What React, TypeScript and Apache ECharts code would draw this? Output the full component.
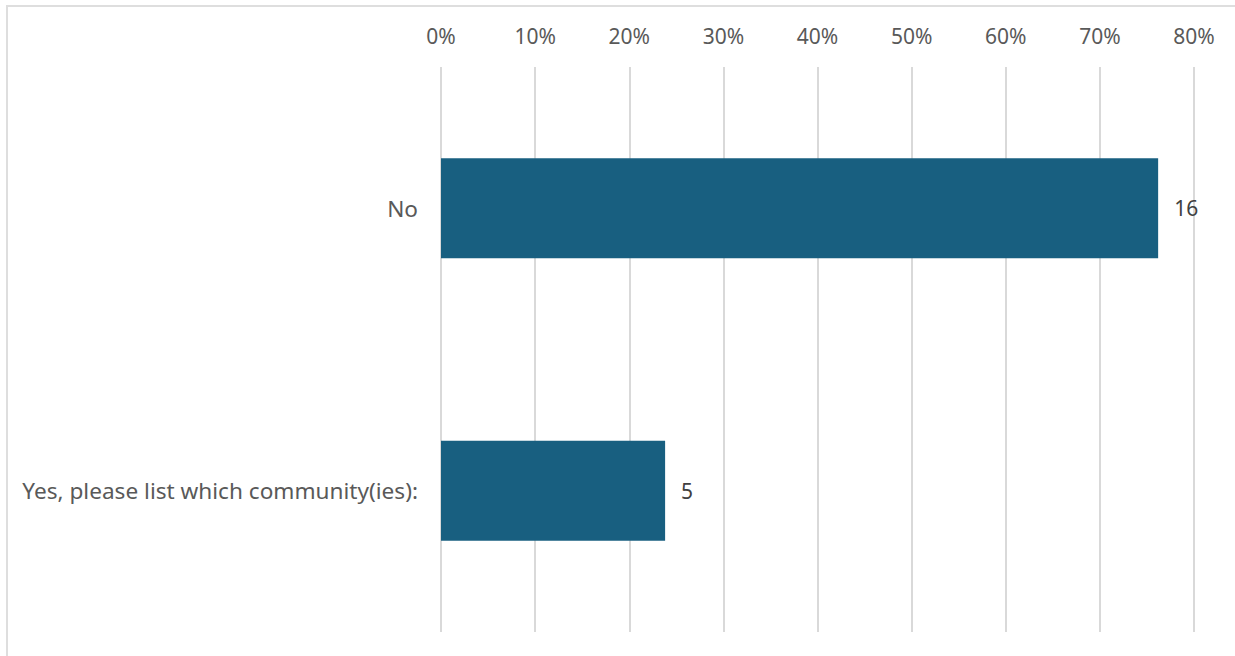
import React, { useEffect, useRef } from "react";
import * as echarts from "echarts";

const categories = ["No", "Yes, please list which community(ies):"];
const counts = [16, 5];
const total = 21;
const tickLabels = ["0%", "10%", "20%", "30%", "40%", "50%", "60%", "70%", "80%"];

export default function App() {
  const ref = useRef<HTMLDivElement>(null);
  useEffect(() => {
    if (!ref.current) return;
    const chart = echarts.init(ref.current, undefined, { renderer: "svg" });
    const font = "'Noto Sans', sans-serif";
    chart.setOption({
      animation: false,
      grid: { left: 441, right: 41, top: 67, bottom: 24, containLabel: false },
      xAxis: {
        type: "value",
        position: "top",
        min: 0,
        max: 0.8,
        interval: 0.1,
        axisLine: { show: false },
        axisTick: { show: false },
        axisLabel: {
          color: "#595959",
          fontSize: 21,
          fontFamily: font,
          margin: 21,
          formatter: (v: number) => tickLabels[Math.round(v * 10)] ?? "",
        },
        splitLine: { show: true, lineStyle: { color: "#d9d9d9", width: 2 } },
      },
      yAxis: {
        type: "category",
        data: categories,
        inverse: true,
        axisLine: { show: false },
        axisTick: { show: false },
        axisLabel: { color: "#595959", fontSize: 22.6, fontFamily: font, margin: 23 },
      },
      series: [
        {
          type: "bar",
          data: counts.map((c) => c / total),
          barWidth: 100,
          itemStyle: { color: "#185f80" },
          label: {
            show: true,
            position: "right",
            distance: 16,
            color: "#404040",
            fontSize: 21,
            fontFamily: font,
            formatter: (p: any) => String(counts[p.dataIndex]),
          },
        },
      ],
    });
    return () => chart.dispose();
  }, []);
  return (
    <div style={{ position: "fixed", left: 0, top: 0, width: 1235, height: 656, background: "#fff", overflow: "hidden" }}>
      <div
        style={{
          position: "absolute",
          left: 6,
          top: 5,
          width: 1300,
          height: 700,
          border: "2px solid #dedede",
          boxSizing: "border-box",
        }}
      />
      <div ref={ref} style={{ position: "absolute", left: 0, top: 0, width: 1235, height: 656 }} />
    </div>
  );
}
